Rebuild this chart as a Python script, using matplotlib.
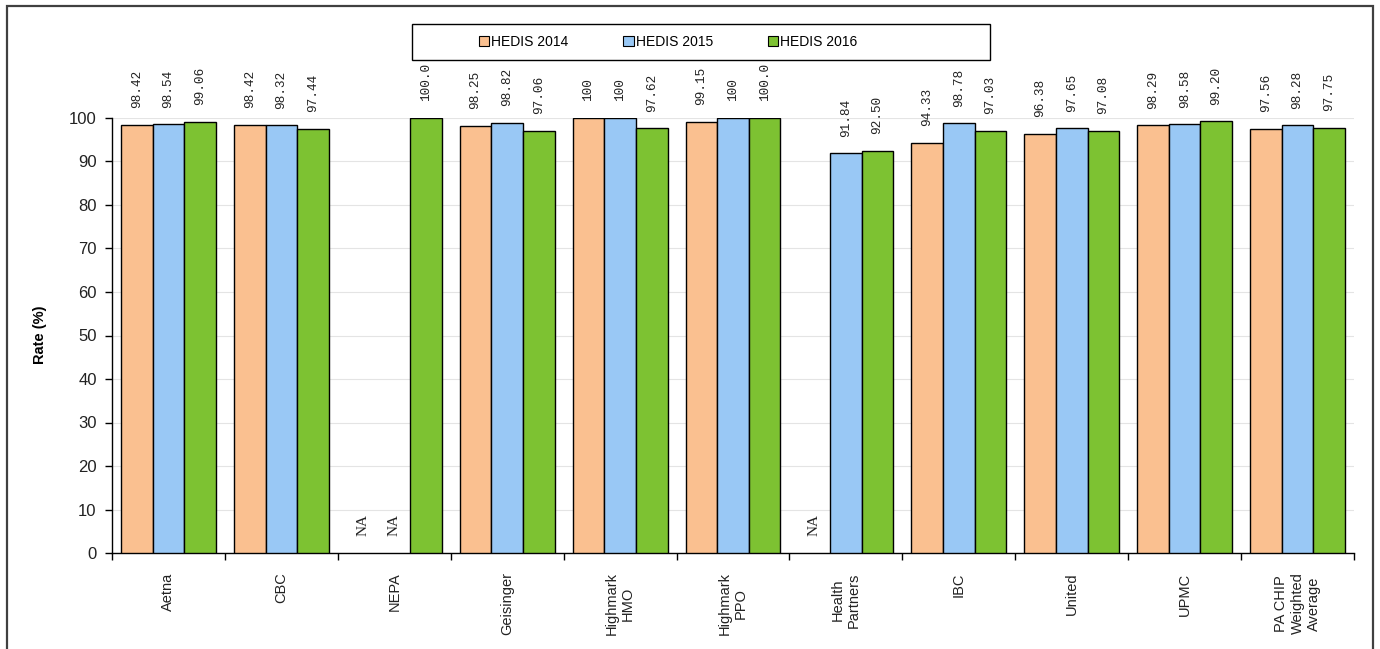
import matplotlib
matplotlib.use("Agg")
import matplotlib.pyplot as plt
from matplotlib.patches import Rectangle, Patch
import numpy as np

categories = ["Aetna", "CBC", "NEPA", "Geisinger", "Highmark\nHMO", "Highmark\nPPO",
              "Health\nPartners", "IBC", "United", "UPMC", "PA CHIP\nWeighted\nAverage"]
series_names = ["HEDIS 2014", "HEDIS 2015", "HEDIS 2016"]
hedis_2014 = [98.42, 98.42, None, 98.25, 100, 99.15, None, 94.33, 96.38, 98.29, 97.56]
hedis_2015 = [98.54, 98.32, None, 98.82, 100, 100, 91.84, 98.78, 97.65, 98.58, 98.28]
hedis_2016 = [99.06, 97.44, 100.0, 97.06, 97.62, 100.0, 92.50, 97.03, 97.08, 99.20, 97.75]
labels_2014 = ["98.42", "98.42", "NA", "98.25", "100", "99.15", "NA", "94.33", "96.38", "98.29", "97.56"]
labels_2015 = ["98.54", "98.32", "NA", "98.82", "100", "100", "91.84", "98.78", "97.65", "98.58", "98.28"]
labels_2016 = ["99.06", "97.44", "100.0", "97.06", "97.62", "100.0", "92.50", "97.03", "97.08", "99.20", "97.75"]
y_ticks = list(range(0, 101, 10))

colors = ["#FAC090", "#99C8F5", "#7DC232"]
series = [hedis_2014, hedis_2015, hedis_2016]
series_labels = [labels_2014, labels_2015, labels_2016]

fig = plt.figure(figsize=(13.8, 6.49), dpi=100)
ax = fig.add_axes([112/1380, 1-553/649, (1354-112)/1380, (553-118)/649])

x = np.arange(len(categories))
w = 0.28
offsets = [-w, 0, w]
for vals, labs, col, off in zip(series, series_labels, colors, offsets):
    h = np.array([v if v is not None else np.nan for v in vals], dtype=float)
    ax.bar(x + off, h, width=w, color=col, edgecolor="black", linewidth=1.0, zorder=3)
    for xi, hv, lab in zip(x + off, h, labs):
        yv = 0 if np.isnan(hv) else hv
        fam = "Liberation Serif" if lab == "NA" else "Liberation Mono"
        fs = 11 if lab == "NA" else 9.2
        ax.annotate(lab, (xi, yv), xytext=(0, 12), textcoords="offset points",
                    rotation=90, ha="center", va="bottom", fontsize=fs,
                    family=fam, color="#222222", zorder=4, annotation_clip=False)

ax.set_xlim(-0.5, len(categories) - 0.5)
ax.set_ylim(0, 100)
ax.set_yticks(y_ticks)
ax.set_yticklabels([str(t) for t in y_ticks], fontsize=12, family="Liberation Sans", color="#222222")
ax.yaxis.grid(True, color="#E4E4E4", linewidth=0.8, zorder=0)
ax.set_axisbelow(True)
ax.tick_params(axis="y", direction="out", length=5, width=1, pad=6, colors="black", labelcolor="#222222")

ax.set_xticks(np.arange(len(categories) + 1) - 0.5)
ax.set_xticklabels([])
ax.tick_params(axis="x", which="major", direction="out", length=5, width=1)
ax.set_xticks(x, minor=True)
ax.set_xticklabels(categories, minor=True, rotation=90, fontsize=10.5,
                   family="Liberation Sans", va="top", ha="center", multialignment="center",
                   color="#222222")
ax.tick_params(axis="x", which="minor", length=0, pad=14)

for s in ["top", "right"]:
    ax.spines[s].set_visible(False)
for s in ["left", "bottom"]:
    ax.spines[s].set_color("black")
    ax.spines[s].set_linewidth(1.0)

fig.text(40/1380, 1-335/649, "Rate (%)", rotation=90, ha="center", va="center",
         fontsize=10.5, fontweight="bold", family="Liberation Sans")

# legend
fig.patches.append(Rectangle((412/1380, 1-60/649), (990-412)/1380, (60-24)/649,
                             transform=fig.transFigure, fill=False, edgecolor="black",
                             linewidth=1.0, zorder=5))
handles = [Patch(facecolor=c, edgecolor="black", linewidth=0.8) for c in colors]
fig.legend(handles, series_names, loc="center", bbox_to_anchor=(668/1380, 1-42/649),
           ncol=3, frameon=False, handlelength=0.75, handleheight=0.75, handletextpad=0.15,
           columnspacing=3.95, prop={"family": "Liberation Sans", "size": 10})

# outer frame
fig.patches.append(Rectangle((7/1380, -0.01), (1373-7)/1380, 1-6/649 + 0.01,
                             transform=fig.transFigure, fill=False, edgecolor="#404040",
                             linewidth=1.6, zorder=5))

fig.savefig("out.png", dpi=100)
